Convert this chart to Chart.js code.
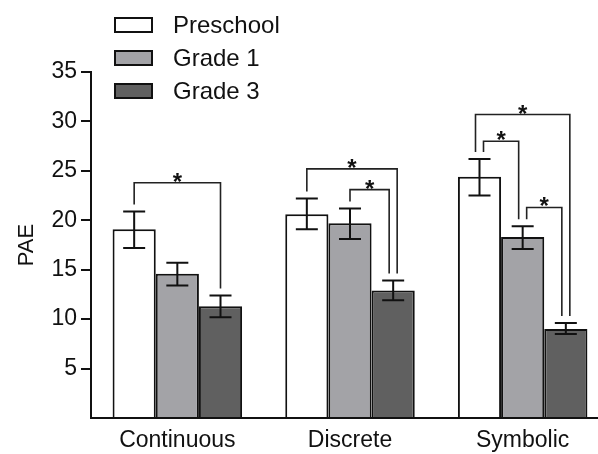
<!DOCTYPE html>
<html>
<head>
<meta charset="utf-8">
<script src="https://cdn.jsdelivr.net/npm/chart.js@4.4.0/dist/chart.umd.min.js"></script>
<style>
  html, body { margin: 0; padding: 0; background: #fff; overflow: hidden; }
</style>
</head>
<body>
<canvas id="paeChart" width="609" height="454"></canvas>
<script>
const categories = ['Continuous', 'Discrete', 'Symbolic'];
const groups = ['Preschool', 'Grade 1', 'Grade 3'];

const preschool = [19.1, 20.6, 24.4];
const grade1 = [14.6, 19.7, 18.3];
const grade3 = [11.3, 12.9, 9.0];

// error bar ends (low / high)
const preschoolLow = [17.2, 19.1, 22.5];
const preschoolHigh = [20.9, 22.2, 26.2];
const grade1Low = [13.4, 18.1, 17.1];
const grade1High = [15.7, 21.2, 19.4];
const grade3Low = [10.2, 11.9, 8.5];
const grade3High = [12.4, 13.9, 9.6];

const yTicks = [5, 10, 15, 20, 25, 30, 35];

// significance brackets: category, the two groups compared, level of the top line
const brackets = [
  { cat: 0, from: 0, to: 2, level: 23.8 },
  { cat: 1, from: 0, to: 2, level: 25.2 },
  { cat: 1, from: 1, to: 2, level: 23.1 },
  { cat: 2, from: 0, to: 2, level: 30.7 },
  { cat: 2, from: 0, to: 1, level: 28.0 },
  { cat: 2, from: 1, to: 2, level: 21.3 }
];

const lows = [preschoolLow, grade1Low, grade3Low];
const highs = [preschoolHigh, grade1High, grade3High];
const fills = ['#ffffff', '#a3a3a7', '#606060'];
const FONT = 'Liberation Sans, Arial, Helvetica, sans-serif';

const extras = {
  id: 'extras',
  afterDatasetsDraw(chart) {
    const ctx = chart.ctx;
    const y = chart.scales.y;
    ctx.save();

    // error bars
    ctx.strokeStyle = '#111';
    ctx.lineWidth = 2;
    chart.data.datasets.forEach((ds, i) => {
      chart.getDatasetMeta(i).data.forEach((bar, j) => {
        const yl = y.getPixelForValue(lows[i][j]);
        const yh = y.getPixelForValue(highs[i][j]);
        ctx.beginPath();
        ctx.moveTo(bar.x, yl); ctx.lineTo(bar.x, yh);
        ctx.moveTo(bar.x - 11, yl); ctx.lineTo(bar.x + 11, yl);
        ctx.moveTo(bar.x - 11, yh); ctx.lineTo(bar.x + 11, yh);
        ctx.stroke();
      });
    });

    // spread legs that land on the same bar
    const legs = {};
    brackets.forEach((b, k) => {
      [['from', 'L'], ['to', 'R']].forEach(([end, kind]) => {
        const key = b.cat + '-' + b[end];
        (legs[key] = legs[key] || []).push({ k, kind, level: b.level });
      });
    });
    const shift = {};
    Object.keys(legs).forEach(key => {
      const list = legs[key];
      const right = list.filter(l => l.kind === 'R').sort((a, b) => a.level - b.level);
      const left = list.filter(l => l.kind === 'L').sort((a, b) => b.level - a.level);
      const ordered = right.concat(left);
      ordered.forEach((l, n) => {
        shift[l.k + l.kind] = (n - (ordered.length - 1) / 2) * 8;
      });
    });

    ctx.strokeStyle = '#222';
    ctx.lineWidth = 1.6;
    ctx.fillStyle = '#111';
    ctx.font = 'bold 24px ' + FONT;
    ctx.textAlign = 'center';
    ctx.textBaseline = 'alphabetic';
    brackets.forEach((b, k) => {
      const b1 = chart.getDatasetMeta(b.from).data[b.cat];
      const b2 = chart.getDatasetMeta(b.to).data[b.cat];
      const x1 = b1.x + shift[k + 'L'];
      const x2 = b2.x + shift[k + 'R'];
      const top = y.getPixelForValue(b.level);
      const e1 = y.getPixelForValue(highs[b.from][b.cat]) - 7;
      const e2 = y.getPixelForValue(highs[b.to][b.cat]) - 7;
      ctx.beginPath();
      ctx.moveTo(x1, e1); ctx.lineTo(x1, top); ctx.lineTo(x2, top); ctx.lineTo(x2, e2);
      ctx.stroke();
      ctx.fillText('*', (x1 + x2) / 2, top + 7);
    });
    ctx.restore();
  },
  afterDraw(chart) {
    // legend, top left
    const ctx = chart.ctx;
    ctx.save();
    ctx.font = '24px ' + FONT;
    ctx.textAlign = 'left';
    ctx.textBaseline = 'middle';
    chart.data.datasets.forEach((ds, i) => {
      const cy = 25 + i * 33;
      ctx.fillStyle = ds.backgroundColor;
      ctx.fillRect(115, cy - 7, 37, 14);
      ctx.strokeStyle = '#111';
      ctx.lineWidth = 2;
      ctx.strokeRect(115, cy - 7, 37, 14);
      ctx.fillStyle = '#111';
      ctx.fillText(ds.label, 173, cy + 1);
    });
    ctx.restore();
  }
};

new Chart(document.getElementById('paeChart'), {
  type: 'bar',
  data: {
    labels: categories,
    datasets: [preschool, grade1, grade3].map((vals, i) => ({
      label: groups[i],
      data: vals,
      backgroundColor: fills[i],
      borderColor: '#111',
      borderWidth: 2,
      borderSkipped: 'start',
      categoryPercentage: 0.75,
      barPercentage: 1.0
    }))
  },
  options: {
    responsive: false,
    animation: false,
    layout: { padding: { top: 72, left: 0, right: 0, bottom: 0 } },
    plugins: {
      legend: { display: false },
      tooltip: { enabled: false }
    },
    scales: {
      x: {
        grid: { display: false, drawTicks: false },
        border: { display: true, color: '#111', width: 2 },
        ticks: { color: '#111', font: { family: FONT, size: 23 }, padding: 9 },
        afterFit(scale) { scale.height = 36; }
      },
      y: {
        min: 0,
        max: 35,
        afterBuildTicks(scale) { scale.ticks = [0].concat(yTicks).map(v => ({ value: v })); },
        grid: {
          drawOnChartArea: false,
          drawTicks: true,
          tickLength: 10,
          lineWidth: 2,
          color: c => (c.tick && c.tick.value === 0 ? 'rgba(0,0,0,0)' : '#111')
        },
        border: { display: true, color: '#111', width: 2 },
        ticks: {
          color: '#111',
          font: { family: FONT, size: 23 },
          padding: 4,
          callback: v => (v === 0 ? '' : v)
        },
        title: {
          display: true,
          text: 'PAE',
          color: '#111',
          font: { family: FONT, size: 22 },
          padding: { top: 14, bottom: 0 }
        },
        afterFit(scale) { scale.width = 91; }
      }
    }
  },
  plugins: [extras]
});
</script>
</body>
</html>
